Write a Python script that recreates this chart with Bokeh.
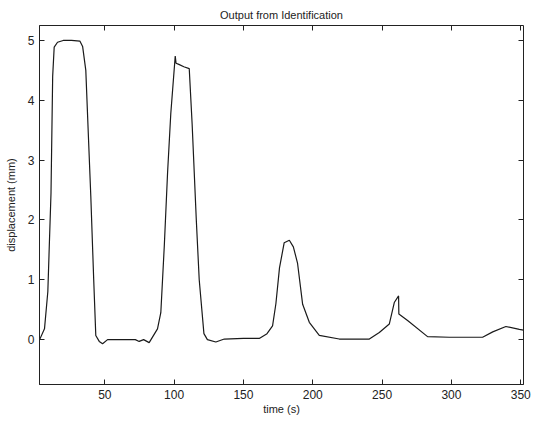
from bokeh.plotting import figure
from bokeh.models import LinearAxis, FixedTicker, Range1d, Title, CustomLabelingPolicy
from bokeh.embed import file_html
from bokeh.resources import INLINE

# time (s)
time_s = [3, 6.5, 8.9, 11.2, 12.4, 13.5, 15.9, 20, 26, 32, 34, 36.3, 38, 39.9, 42, 43.5,
          46, 48.4, 52, 60, 72, 74.8, 78, 82, 88, 90.4, 92.9, 95.3, 97.6, 100.8, 101.4,
          103.4, 107, 110.9, 113, 116, 118.1, 121.5, 124, 130.1, 136.2, 150, 161.4, 167,
          171, 173.4, 176, 179.4, 183.1, 186, 189, 192.7, 197.5, 204.7, 219.1, 240.8, 248,
          255.2, 258.8, 261.9, 262.1, 268.4, 282.8, 298.5, 322.5, 329.8, 339.3, 349, 352]
# displacement (mm)
displacement_mm = [0.0, 0.18, 0.8, 2.45, 4.4, 4.89, 4.97, 5.0, 5.0, 4.99, 4.9, 4.5, 3.5, 2.4, 1.0, 0.07,
                   -0.03, -0.07, 0.0, 0.0, 0.0, -0.03, 0.0, -0.05, 0.18, 0.45, 1.56, 2.8, 3.78, 4.74, 4.62,
                   4.6, 4.56, 4.53, 3.6, 2.0, 1.0, 0.1, 0.0, -0.04, 0.01, 0.02, 0.02, 0.1,
                   0.23, 0.6, 1.2, 1.62, 1.66, 1.55, 1.28, 0.59, 0.29, 0.07, 0.01, 0.01, 0.12,
                   0.26, 0.62, 0.73, 0.43, 0.32, 0.05, 0.04, 0.04, 0.13, 0.22, 0.17, 0.16]

x_ticks = [50, 100, 150, 200, 250, 300, 350]
y_ticks = [0, 1, 2, 3, 4, 5]

FONT = "Liberation Sans"
TXT = "#222222"

p = figure(width=531, height=417, output_backend="svg", toolbar_location=None,
           x_range=Range1d(2.9, 352), y_range=Range1d(-0.75, 5.25),
           min_border_left=39, min_border_right=8, min_border_top=25, min_border_bottom=32)
p.title = Title(text="Output from Identification", align="center", text_font=FONT,
                text_font_size="11px", text_font_style="normal", text_color=TXT)
p.xgrid.visible = False
p.ygrid.visible = False
p.outline_line_color = "#222222"
p.outline_line_width = 1
p.background_fill_color = "white"
p.border_fill_color = "white"

p.line(time_s, displacement_mm, line_color="#1a1a1a", line_width=1.2)

def style(ax, ticks, show_labels):
    ax.ticker = FixedTicker(ticks=ticks)
    ax.major_tick_in = 5
    ax.major_tick_out = 0
    ax.minor_tick_line_color = None
    ax.axis_line_color = "#222222"
    ax.major_tick_line_color = "#222222"
    ax.major_label_text_font = FONT
    ax.major_label_text_color = TXT
    ax.axis_label_text_font = FONT
    ax.axis_label_text_color = TXT
    ax.axis_label_text_font_style = "normal"
    ax.major_label_text_font_size = "12px"
    ax.axis_label_text_font_size = "11px"
    if not show_labels:
        ax.major_label_policy = CustomLabelingPolicy(code="return []")
        ax.major_label_text_font_size = "0px"
        ax.major_label_standoff = 0
        ax.axis_line_color = None

xa = p.xaxis[0]
style(xa, x_ticks, True)
xa.axis_label = "time (s)"
xa.major_label_standoff = 5
xa.axis_label_standoff = 1

ya = p.yaxis[0]
style(ya, y_ticks, True)
ya.axis_label = "displacement (mm)"
ya.major_label_standoff = 5
ya.axis_label_standoff = 8

top = LinearAxis()
style(top, x_ticks, False)
p.add_layout(top, "above")
right = LinearAxis()
style(right, y_ticks, False)
p.add_layout(right, "right")

open("out.html", "w").write(file_html(p, INLINE))
